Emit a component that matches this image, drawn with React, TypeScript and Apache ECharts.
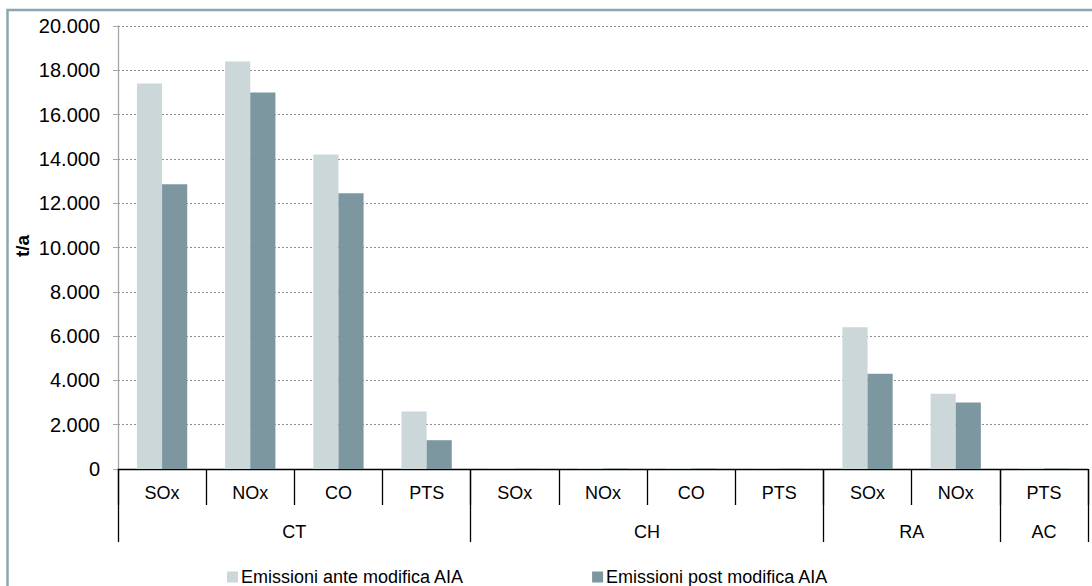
import React, { useEffect, useRef } from "react";
import * as echarts from "echarts";

const categories = ["SOx", "NOx", "CO", "PTS", "SOx", "NOx", "CO", "PTS", "SOx", "NOx", "PTS"];
const groupNames = ["CT", "CH", "RA", "AC"];
const groupCenters = [2, 6, 9, 10.5];
const groupBounds = [0, 4, 8, 10, 11];
const ante = [17400, 18400, 14200, 2600, 20, 40, 40, 20, 6400, 3400, 50];
const post = [12850, 17000, 12450, 1300, 10, 20, 20, 10, 4300, 3000, 20];
const seriesNames = ["Emissioni ante modifica AIA", "Emissioni post modifica AIA"];
const yTicks = { min: 0, max: 20000, interval: 2000 };

const FONT = "'Liberation Sans', Arial, sans-serif";

export default function App() {
  const ref = useRef<HTMLDivElement>(null);
  useEffect(() => {
    if (!ref.current) return;
    const chart = echarts.init(ref.current, null, { renderer: "svg" });
    chart.setOption({
      animation: false,
      backgroundColor: "#ffffff",
      textStyle: { fontFamily: FONT },
      graphic: [
        {
          type: "rect",
          shape: { x: 7.5, y: 10, width: 1200, height: 700 },
          style: { fill: "none", stroke: "#8CA6B0", lineWidth: 2.5 },
          silent: true,
        },
        {
          type: "text",
          x: 22,
          y: 246,
          rotation: Math.PI / 2,
          style: {
            text: "t/a",
            fontFamily: FONT,
            fontSize: 19,
            fontWeight: "bold",
            fill: "#000",
            align: "center",
            verticalAlign: "middle",
          },
        },
      ],
      legend: {
        data: seriesNames,
        left: 222,
        top: 563,
        itemWidth: 11,
        itemHeight: 11,
        itemGap: 128,
        icon: "rect",
        textStyle: { fontFamily: FONT, fontSize: 18, color: "#000", padding: [0, 0, 0, -2] },
      },
      grid: { left: 118, right: 4, top: 26, bottom: 117, containLabel: false },
      xAxis: [
        {
          type: "category",
          data: categories,
          axisLine: { lineStyle: { color: "#000", width: 1.3 } },
          axisTick: { show: true, length: 36, lineStyle: { color: "#000", width: 1.3 } },
          axisLabel: { color: "#000", fontSize: 18, fontFamily: FONT, margin: 15, interval: 0 },
          splitLine: { show: false },
        },
        {
          type: "value",
          min: 0,
          max: 11,
          position: "bottom",
          axisLine: { show: false },
          axisTick: {
            show: true,
            length: 73,
            customValues: groupBounds,
            lineStyle: { color: "#000", width: 1.3 },
          },
          axisLabel: {
            show: true,
            customValues: groupCenters,
            color: "#000",
            fontSize: 18,
            fontFamily: FONT,
            margin: 54,
            formatter: (v: number) => {
              const i = groupCenters.indexOf(v);
              return i >= 0 ? groupNames[i] : "";
            },
          },
          splitLine: { show: false },
        },
      ],
      yAxis: {
        type: "value",
        min: yTicks.min,
        max: yTicks.max,
        interval: yTicks.interval,
        axisLine: { show: true, lineStyle: { color: "#A6A6A6", width: 1.3 } },
        axisTick: { show: true, length: 5, lineStyle: { color: "#A6A6A6" } },
        axisLabel: {
          color: "#000",
          fontSize: 20,
          fontFamily: FONT,
          margin: 18,
          formatter: (v: number) => v.toLocaleString("de-DE"),
        },
        splitLine: { show: true, lineStyle: { color: "#8C8C8C", type: [2, 2], width: 1 } },
      },
      series: [
        {
          name: seriesNames[0],
          type: "bar",
          data: ante,
          barGap: "0%",
          barCategoryGap: "43%",
          itemStyle: { color: "#CBD7D9" },
        },
        {
          name: seriesNames[1],
          type: "bar",
          data: post,
          itemStyle: { color: "#7C97A0" },
        },
      ],
    });
    return () => chart.dispose();
  }, []);
  return (
    <div style={{ position: "absolute", left: 0, top: 0, width: 1092, height: 586 }}>
      <div ref={ref} style={{ width: 1092, height: 586 }} />
    </div>
  );
}
